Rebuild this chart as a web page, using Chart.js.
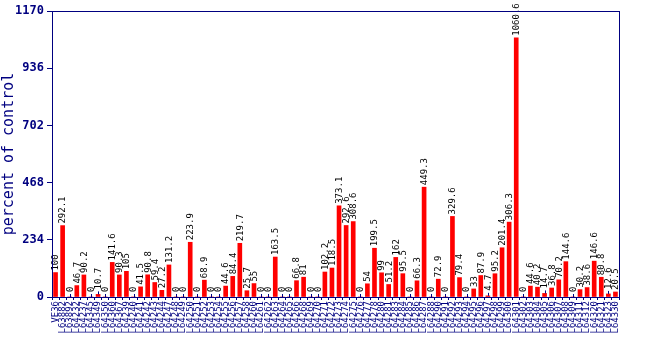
<!DOCTYPE html>
<html>
<head>
<meta charset="utf-8">
<script src="https://cdn.jsdelivr.net/npm/chart.js@4/dist/chart.umd.min.js"></script>
<style>
  html, body { margin: 0; padding: 0; background: #fff; }
  #wrap { width: 650px; height: 350px; }
</style>
</head>
<body>
<div id="wrap"><canvas id="expChart" width="650" height="350"></canvas></div>
<script>
// sample names (x axis)
const sampleLabels = [
  'VE36', 'L63882', 'L63892', 'L64232', 'L64237', 'L64345', 'L64349', 'L64350',
  'L64360', 'L64367', 'L64239', 'L64240', 'L64241', 'L64242', 'L64243', 'L64244',
  'L64247', 'L64248', 'L64249', 'L64250', 'L64251', 'L64252', 'L64253', 'L64254',
  'L64255', 'L64256', 'L64257', 'L64258', 'L64260', 'L64261', 'L64262', 'L64263',
  'L64264', 'L64265', 'L64266', 'L64268', 'L64269', 'L64270', 'L64271', 'L64272',
  'L64273', 'L64274', 'L64275', 'L64276', 'L64277', 'L64278', 'L64280', 'L64281',
  'L64283', 'L64284', 'L64285', 'L64286', 'L64287', 'L64288', 'L64290', 'L64291',
  'L64292', 'L64293', 'L64294', 'L64295', 'L64296', 'L64297', 'L64298', 'L64299',
  'L64300', 'L64301', 'L64302', 'L64303', 'L64304', 'L64305', 'L64306', 'L64307',
  'L64308', 'L64309', 'L64311', 'L64312', 'L64320', 'L64321', 'L64323', 'L64330'
];

// percent of control, one per sample
const percentValues = [
  100, 292.1, 0, 46.7, 90.2, 0, 10.7, 0, 141.6, 90.3,
  105, 0, 41.5, 90.8, 59.4, 27.2, 131.2, 0, 0, 223.9,
  0, 68.9, 0, 0, 44.6, 84.4, 219.7, 25.7, 55, 0,
  0, 163.5, 0, 0, 66.8, 81, 0, 0, 102.2, 118.5,
  373.1, 292.6, 308.6, 0, 54, 199.5, 99, 51.2, 162, 95.5,
  0, 66.3, 449.3, 0, 72.9, 0, 329.6, 79.4, 0, 33,
  87.9, 4.7, 95.2, 201.4, 306.3, 1060.6, 0, 44.6, 40.2, 14.7,
  36.8, 70.2, 144.6, 0, 30.2, 38.6, 146.6, 80.8, 12.6, 20.5
];

const yTicks = [0, 234, 468, 702, 936, 1170];

const NAVY = '#000080';
const MONO = "'DejaVu Sans Mono', 'Liberation Mono', monospace";

// frame around the plot area
const boxPlugin = {
  id: 'plotBox',
  afterDraw(chart) {
    const a = chart.chartArea;
    const c = chart.ctx;
    c.save();
    c.strokeStyle = NAVY;
    c.lineWidth = 1;
    c.strokeRect(a.left + 0.5, a.top + 0.5, a.right - a.left, a.bottom - a.top);
    c.restore();
  }
};

// rotated value labels above each bar
const valueLabels = {
  id: 'valueLabels',
  afterDatasetsDraw(chart) {
    const c = chart.ctx;
    const meta = chart.getDatasetMeta(0);
    c.save();
    meta.data.forEach((bar, i) => {
      const v = percentValues[i];
      let top = bar.y;
      if (v < 20) {
        // small stem for tiny / empty values
        c.strokeStyle = NAVY;
        c.lineWidth = 1;
        c.beginPath();
        c.moveTo(Math.round(bar.x) + 0.5, top);
        c.lineTo(Math.round(bar.x) + 0.5, top - 3);
        c.stroke();
        top -= 3;
      }
      c.save();
      c.translate(bar.x + 0.5, top - 2);
      c.rotate(-Math.PI / 2);
      c.fillStyle = '#000';
      c.font = '9px ' + MONO;
      c.textAlign = 'left';
      c.textBaseline = 'middle';
      c.fillText(String(v), 0, 0);
      c.restore();
    });
    c.restore();
  }
};

const ctx = document.getElementById('expChart').getContext('2d');

const expChart = new Chart(ctx, {
  type: 'bar',
  data: {
    labels: sampleLabels,
    datasets: [{
      data: percentValues,
      backgroundColor: '#ff0000',
      borderWidth: 0,
      barThickness: 4
    }]
  },
  options: {
    responsive: false,
    animation: false,
    events: [],
    layout: { padding: { top: 11, right: 31, left: 0, bottom: 0 } },
    plugins: {
      legend: { display: false },
      tooltip: { enabled: false }
    },
    scales: {
      x: {
        offset: true,
        grid: {
          display: true,
          drawOnChartArea: false,
          drawTicks: true,
          tickLength: 3,
          color: NAVY
        },
        border: { display: true, color: NAVY },
        ticks: {
          autoSkip: false,
          maxRotation: 90,
          minRotation: 90,
          color: NAVY,
          padding: 1,
          font: { family: MONO, size: 9 }
        },
        afterFit(scale) { scale.height = 53; }
      },
      y: {
        min: 0,
        max: 1170,
        afterBuildTicks(scale) {
          scale.ticks = yTicks.map(v => ({ value: v }));
        },
        grid: {
          display: true,
          drawOnChartArea: false,
          tickLength: 5,
          color: NAVY
        },
        border: { display: true, color: NAVY },
        ticks: {
          color: NAVY,
          padding: 3,
          callback: v => String(v),
          font: { family: MONO, size: 12, weight: 'bold' }
        },
        title: {
          display: true,
          text: 'percent of control',
          color: NAVY,
          padding: { top: 0, bottom: 0 },
          font: { family: MONO, size: 15 }
        },
        afterFit(scale) { scale.width = 52; }
      }
    }
  },
  plugins: [boxPlugin, valueLabels]
});
</script>
</body>
</html>
